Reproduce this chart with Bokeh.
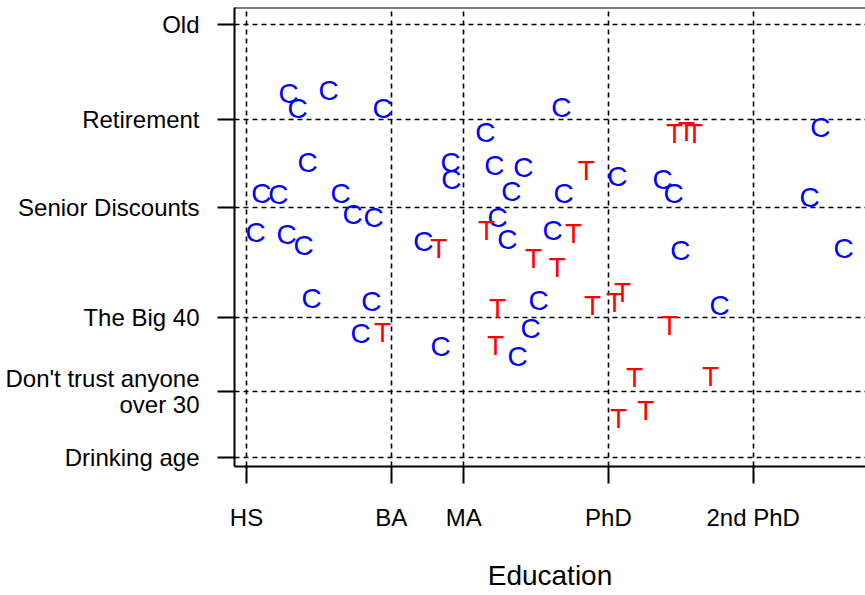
from bokeh.plotting import figure
from bokeh.models import Range1d, FixedTicker, Span, ColumnDataSource
from bokeh.core.properties import value
from bokeh.embed import file_html
from bokeh.resources import INLINE

# ---- data ----
edu_ticks = [12, 16, 18, 22, 26]
edu_labels = ["HS", "BA", "MA", "PhD", "2nd PhD"]
age_ticks = [21, 30, 40, 55, 67, 80]
age_labels = ["Drinking age", "Don't trust anyone\nover 30", "The Big 40",
              "Senior Discounts", "Retirement", "Old"]

c_edu = [13.16, 13.41, 14.27, 15.76, 13.69, 12.41, 12.88, 14.60, 14.93, 15.51,
         12.25, 13.11, 13.58, 13.80, 15.45, 15.15, 16.89, 17.36, 17.64, 17.66,
         18.60, 18.85, 19.65, 19.32, 20.70, 20.76, 18.94, 19.21, 20.46, 20.07,
         19.85, 19.49, 22.25, 23.50, 23.80, 23.99, 25.07, 27.86, 27.56, 28.50]
c_age = [70.59, 68.55, 71.00, 68.55, 61.18, 56.96, 56.82, 56.96, 54.09, 53.68,
         51.64, 51.37, 49.87, 42.64, 42.23, 37.87, 50.41, 36.09, 61.18, 58.86,
         65.27, 60.77, 60.50, 57.23, 68.68, 56.96, 53.68, 50.68, 51.91, 42.37,
         38.55, 34.73, 59.27, 58.86, 56.96, 49.18, 41.68, 65.95, 56.41, 49.46]

t_edu = [17.31, 15.76, 18.63, 18.94, 18.88, 19.93, 20.59, 21.04, 21.39, 21.56,
         22.17, 22.39, 23.69, 22.72, 24.82, 22.28, 23.03, 23.83, 24.16, 24.38]
t_age = [49.46, 38.00, 51.91, 41.28, 36.23, 48.09, 46.87, 51.50, 60.09, 41.68,
         42.09, 43.46, 38.96, 31.87, 32.00, 26.28, 27.37, 65.14, 65.41, 65.14]

# ---- layout ----
FONT = "Liberation Sans"
W, H = 865, 595
x_start, x_end = 11.668, 29.104
y_start, y_end = 19.73, 82.32

p = figure(width=W, height=H, output_backend="svg", toolbar_location=None,
           x_range=Range1d(x_start, x_end), y_range=Range1d(y_start, y_end),
           min_border_left=234, min_border_right=0, min_border_top=7,
           min_border_bottom=129)
p.outline_line_color = None
p.background_fill_color = "white"
p.border_fill_color = "white"

for ax in (p.xaxis[0], p.yaxis[0]):
    ax.axis_line_color = "black"
    ax.axis_line_width = 2
    ax.major_tick_line_color = "black"
    ax.major_tick_line_width = 2
    ax.major_tick_out = 17
    ax.major_tick_in = 0
    ax.minor_tick_out = 0
    ax.minor_tick_in = 0
    ax.major_label_text_font = FONT
    ax.major_label_text_font_size = "24px"
    ax.major_label_text_color = "black"

p.xaxis.ticker = FixedTicker(ticks=edu_ticks)
p.xaxis.major_label_overrides = dict(zip(edu_ticks, edu_labels))
p.xaxis.major_label_standoff = 20
p.xaxis.axis_label = "Education"
p.xaxis.axis_label_text_font = FONT
p.xaxis.axis_label_text_font_size = "28px"
p.xaxis.axis_label_text_font_style = "normal"
p.xaxis.axis_label_text_color = "black"
p.xaxis.axis_label_standoff = 26

p.yaxis.ticker = FixedTicker(ticks=age_ticks)
p.yaxis.major_label_overrides = dict(zip(age_ticks, age_labels))
p.yaxis.major_label_standoff = 18
p.yaxis.major_label_text_line_height = 0.97

p.xgrid.ticker = FixedTicker(ticks=edu_ticks)
p.ygrid.ticker = FixedTicker(ticks=age_ticks)
for g in (p.xgrid[0], p.ygrid[0]):
    g.grid_line_color = "black"
    g.grid_line_width = 1.6
    g.grid_line_dash = "5 4"

p.add_layout(Span(location=y_end, dimension="width", line_color="black", line_width=2))

csrc = ColumnDataSource(dict(x=c_edu, y=c_age))
tsrc = ColumnDataSource(dict(x=t_edu, y=t_age))
p.text(x="x", y="y", text=value("C"), source=csrc, text_color="#0000ff",
       text_font=value(FONT), text_font_size="28px", text_align="center",
       text_baseline="middle")
p.text(x="x", y="y", text=value("T"), source=tsrc, text_color="#ff0000",
       text_font=value(FONT), text_font_size="28px", text_align="center",
       text_baseline="middle")

open("out.html", "w").write(file_html(p, INLINE))
